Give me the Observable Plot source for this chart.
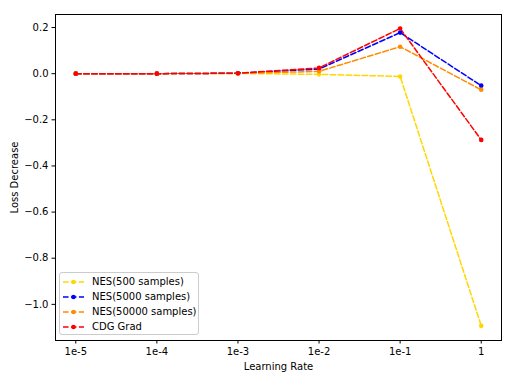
<!DOCTYPE html>
<html>
<head>
<meta charset="utf-8">
<script src="https://cdn.jsdelivr.net/npm/d3@7"></script>
<script src="https://cdn.jsdelivr.net/npm/@observablehq/plot@0.6"></script>
<style>
  html, body { margin: 0; padding: 0; background: #fff; }
  #wrap { position: relative; width: 518px; height: 380px; font-family: "DejaVu Sans", sans-serif; }
  #legend { position: absolute; left: 59px; top: 272px; width: 140px; height: 63px;
    border: 1px solid #cccccc; border-radius: 3px; background: rgba(255,255,255,0.8);
    font-size: 10px; color: #000; box-sizing: border-box; padding-top: 1px; }
  .row { display: flex; align-items: center; height: 15px; }
  .row svg { margin-left: 3px; margin-right: 8px; }
</style>
</head>
<body>
<div id="wrap"></div>
<script>
const lrLabels = ["1e-5", "1e-4", "1e-3", "1e-2", "1e-1", "1"];
const seriesNames = ["NES(500 samples)", "NES(5000 samples)", "NES(50000 samples)", "CDG Grad"];
const seriesColors = ["#FFD700", "#0000FF", "#FF8C00", "#FF0000"];
const nes500 = [0.0, 0.0, 0.001, -0.003, -0.012, -1.093];
const nes5000 = [0.0, 0.0, 0.002, 0.020, 0.178, -0.052];
const nes50000 = [0.0, 0.0, 0.001, 0.010, 0.117, -0.070];
const cdgGrad = [0.0, 0.0, 0.002, 0.025, 0.196, -0.287];
const yTicks = [-1.0, -0.8, -0.6, -0.4, -0.2, 0.0, 0.2];

const allSeries = [nes500, nes5000, nes50000, cdgGrad];
const rows = [];
allSeries.forEach((vals, s) => vals.forEach((v, i) => rows.push({series: seriesNames[s], idx: i, value: v})));

const colorScale = {domain: seriesNames, range: seriesColors};
const dash = "5.55,2.4";

const chart = Plot.plot({
  width: 518,
  height: 380,
  marginLeft: 55,
  marginRight: 17,
  marginTop: 14,
  marginBottom: 40,
  style: {fontFamily: "DejaVu Sans, sans-serif", fontSize: "10px", color: "#000", background: "#fff"},
  x: {domain: [-0.25, 5.25], ticks: lrLabels.map((_, i) => i)},
  y: {domain: [-1.1566, 0.2565]},
  color: colorScale,
  marks: [
    Plot.frame({stroke: "#000", strokeWidth: 1}),
    Plot.axisX({ticks: lrLabels.map((_, i) => i), tickFormat: i => lrLabels[i], tickSize: 3.5, tickPadding: 3.5,
      label: "Learning Rate", labelAnchor: "center", labelArrow: "none", labelOffset: 29, fontSize: 10}),
    Plot.axisY({ticks: yTicks, tickFormat: d => d.toFixed(1).replace("-", "\u2212"), tickSize: 3.5, tickPadding: 3.5,
      label: "Loss Decrease", labelAnchor: "center", labelArrow: "none", labelOffset: 45, fontSize: 10}),
    Plot.line(rows, {x: "idx", y: "value", z: "series", stroke: "series", strokeWidth: 1.5, strokeDasharray: dash}),
    Plot.dot(rows, {x: "idx", y: "value", fill: "series", r: 2.3, stroke: null})
  ]
});

const wrap = document.getElementById("wrap");
wrap.appendChild(chart);

const legend = document.createElement("div");
legend.id = "legend";
seriesNames.forEach((name, s) => {
  const row = document.createElement("div");
  row.className = "row";
  row.innerHTML = `<svg width="21" height="6"><line x1="0" y1="3" x2="21" y2="3" stroke="${seriesColors[s]}" stroke-width="1.5" stroke-dasharray="${dash}"/><circle cx="10.5" cy="3" r="2.3" fill="${seriesColors[s]}"/></svg><span>${name}</span>`;
  legend.appendChild(row);
});
wrap.appendChild(legend);
</script>
</body>
</html>
